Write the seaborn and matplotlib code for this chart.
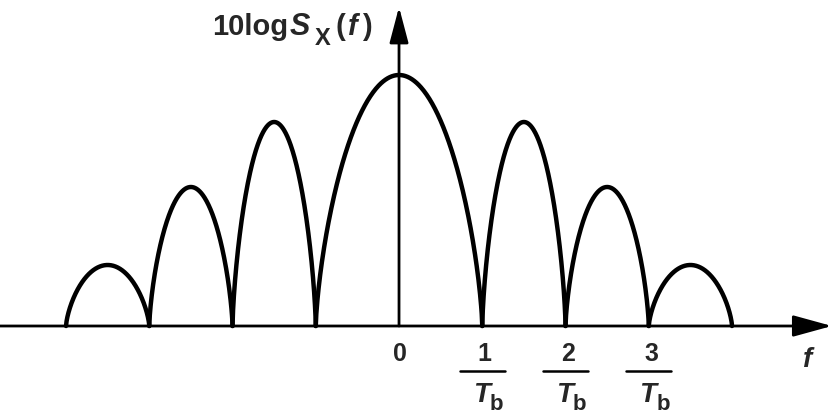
import numpy as np
import pandas as pd
import matplotlib
matplotlib.use('Agg')
import matplotlib.pyplot as plt
from matplotlib.transforms import IdentityTransform
import seaborn as sns

# lobes of the spectrum, frequency in units of 1/Tb, height in arbitrary dB units
lobe_left = [-4, -3, -2, -1, 1, 2, 3]
lobe_right = [-3, -2, -1, 1, 2, 3, 4]
lobe_peak = [61, 139, 204, 251, 204, 139, 61]

tick_pos = [1, 2, 3]
tick_num = ['1', '2', '3']

sns.set_style('white')
plt.rcParams['font.family'] = ['Liberation Sans', 'DejaVu Sans']
plt.rcParams['font.weight'] = 'bold'

# build each lobe as an arch between two nulls
rows = []
for i, (a, b, h) in enumerate(zip(lobe_left, lobe_right, lobe_peak)):
    xs = np.linspace(a, b, 300)
    u = (xs - (a + b) / 2) / ((b - a) / 2)
    ys = h * np.clip(1 - u ** 2, 0, None) ** 0.7
    for x, y in zip(xs, ys):
        rows.append({'f': x, 'S': y, 'lobe': i})
df = pd.DataFrame(rows)

fig = plt.figure(figsize=(8.34, 4.15), dpi=100)
ax = fig.add_axes([0, 0, 1, 1])
sns.lineplot(data=df, x='f', y='S', units='lobe', estimator=None,
             color='black', lw=3.2, ax=ax, legend=False, sort=False)
ax.set_xlim(-4.793, 5.225)
ax.set_ylim(-89, 326)
ax.axis('off')

# axes with arrow heads
ax.annotate('', xy=(5.2, 0), xytext=(-4.8, 0),
            arrowprops=dict(arrowstyle='-|>,head_length=1.2,head_width=0.33',
                            mutation_scale=20, lw=2, color='black',
                            shrinkA=0, shrinkB=0))
ax.annotate('', xy=(0, 319), xytext=(0, 0),
            arrowprops=dict(arrowstyle='-|>,head_length=1.1,head_width=0.29',
                            mutation_scale=20, lw=2, color='black',
                            shrinkA=0, shrinkB=0))

# y label built from pieces, left to right (pixel positions)
renderer = fig.canvas.get_renderer()
label_parts = [('10log', 21, 'normal', 0, 0),
               ('S', 22, 'italic', 2, 0),
               ('X', 17, 'normal', 4, -10),
               ('(', 21, 'normal', 5, 0),
               ('f', 21, 'italic', 3, 0),
               (')', 21, 'normal', 4, 0)]
x = 212
for txt, size, style, gap, dy in label_parts:
    x += gap
    t = fig.text(x, 380 + dy, txt, fontsize=size, fontstyle=style,
                 fontweight='bold', ha='left', va='baseline',
                 transform=IdentityTransform())
    x = t.get_window_extent(renderer).x1

ax.text(0.01, -16, '0', fontsize=18, fontweight='bold', ha='center', va='top')
for p, n in zip(tick_pos, tick_num):
    ax.text(p + 0.03, -16, n, fontsize=18, fontweight='bold', ha='center', va='top')
    ax.plot([p - 0.27, p + 0.27], [-45, -45], color='black', lw=1.8)
    ax.text(p + 0.09, -76, 'T', fontsize=20, fontstyle='italic',
            fontweight='bold', ha='right', va='baseline')
    ax.text(p + 0.09, -84, 'b', fontsize=16, fontweight='bold',
            ha='left', va='baseline')
ax.text(4.91, -41, 'f', fontsize=20, fontstyle='italic', fontweight='bold',
        ha='center', va='baseline')

fig.savefig('out.png', dpi=100)
